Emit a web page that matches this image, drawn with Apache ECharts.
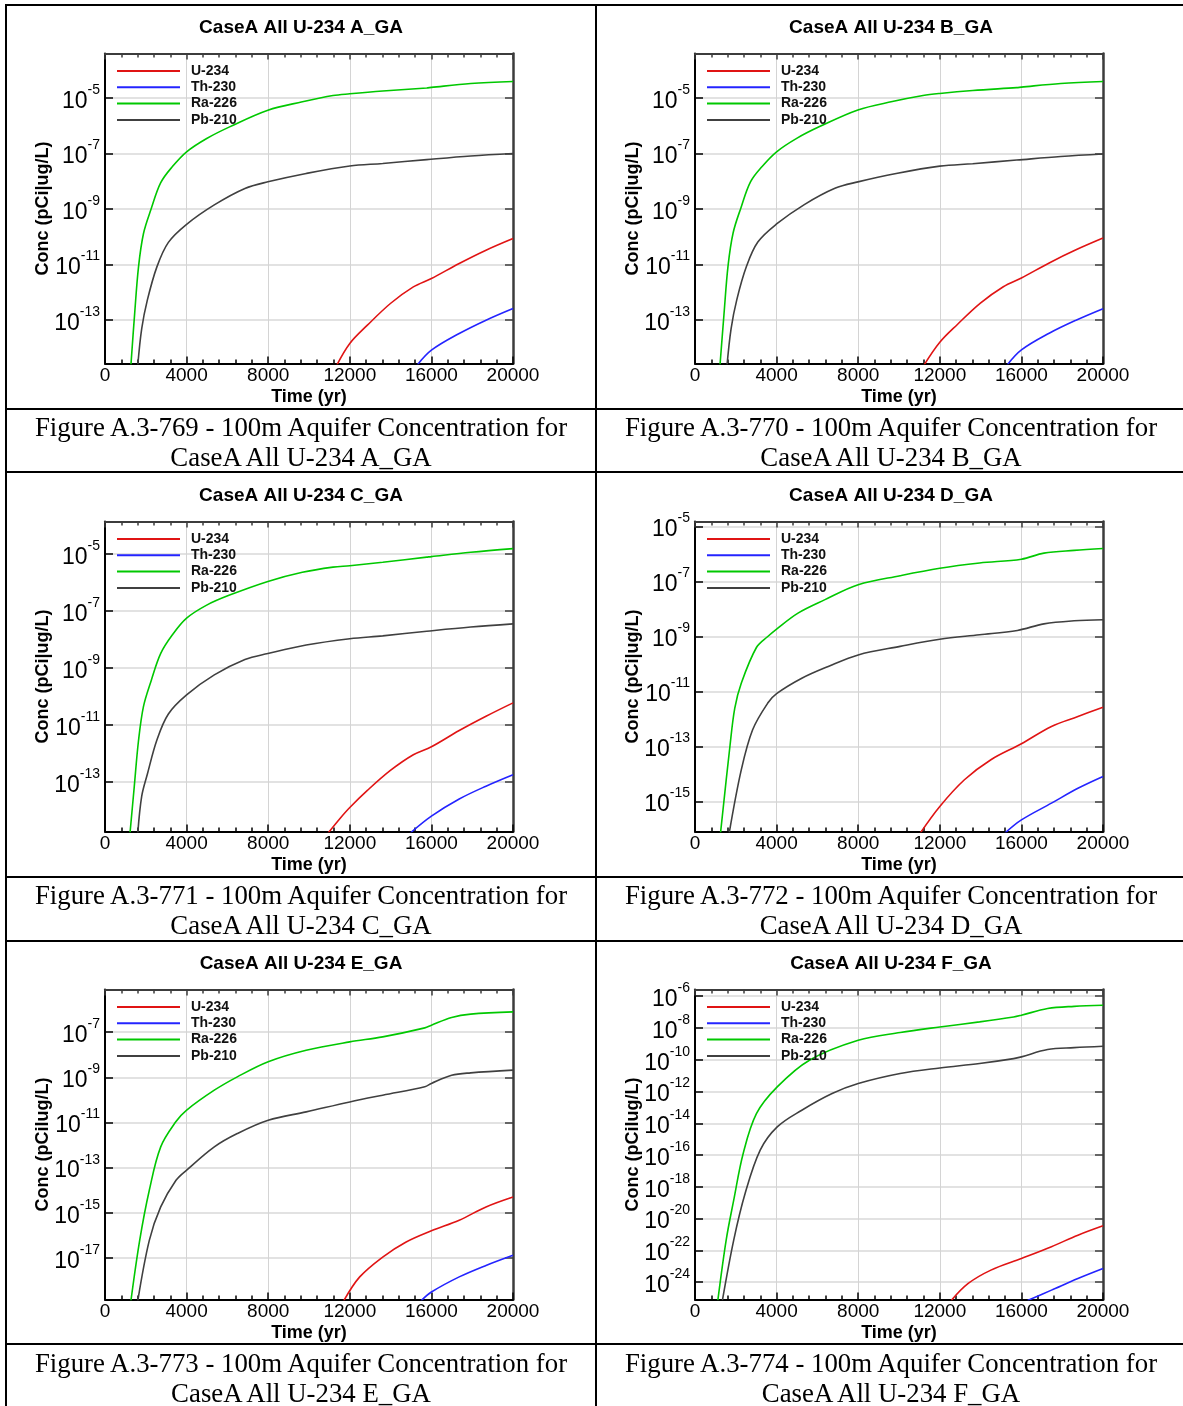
<!DOCTYPE html>
<html><head><meta charset="utf-8">
<script src="https://cdn.jsdelivr.net/npm/echarts@6/dist/echarts.min.js"></script>
<style>
html,body{margin:0;padding:0;background:#fff;}
body{width:1183px;height:1406px;position:relative;overflow:hidden;}
.chart{position:absolute;width:590px;height:468px;}
.hl{position:absolute;left:5px;width:1178px;height:2px;background:#000;}
.vl{position:absolute;top:4px;height:1402px;width:2px;background:#000;}
.cap{position:absolute;width:590px;text-align:center;font-family:'Liberation Serif','Times New Roman',serif;font-size:26.8px;line-height:30px;color:#000;white-space:nowrap;}
</style></head>
<body>
<div class="hl" style="top:4px"></div>
<div class="hl" style="top:408px"></div>
<div class="hl" style="top:471px"></div>
<div class="hl" style="top:876px"></div>
<div class="hl" style="top:940px"></div>
<div class="hl" style="top:1343px"></div>
<div class="vl" style="left:5px"></div>
<div class="vl" style="left:595px"></div>
<div id="cA" class="chart" style="left:0;top:0"></div>
<div id="cB" class="chart" style="left:590px;top:0"></div>
<div id="cC" class="chart" style="left:0;top:468px"></div>
<div id="cD" class="chart" style="left:590px;top:468px"></div>
<div id="cE" class="chart" style="left:0;top:936px"></div>
<div id="cF" class="chart" style="left:590px;top:936px"></div>
<div class="cap" style="left:6px;top:412px">Figure A.3-769 - 100m Aquifer Concentration for<br>CaseA All U-234 A_GA</div>
<div class="cap" style="left:596px;top:412px">Figure A.3-770 - 100m Aquifer Concentration for<br>CaseA All U-234 B_GA</div>
<div class="cap" style="left:6px;top:880px">Figure A.3-771 - 100m Aquifer Concentration for<br>CaseA All U-234 C_GA</div>
<div class="cap" style="left:596px;top:880px">Figure A.3-772 - 100m Aquifer Concentration for<br>CaseA All U-234 D_GA</div>
<div class="cap" style="left:6px;top:1348px">Figure A.3-773 - 100m Aquifer Concentration for<br>CaseA All U-234 E_GA</div>
<div class="cap" style="left:596px;top:1348px">Figure A.3-774 - 100m Aquifer Concentration for<br>CaseA All U-234 F_GA</div>
<script>
// ---------- shared ----------
const seriesNames = ['U-234', 'Th-230', 'Ra-226', 'Pb-210'];
const xTickStep = 4000;
const xRange = [0, 20000];

// ---------- Chart A ----------
const titleA = 'CaseA All U-234 A_GA';
const yRangeA = [-14.56, -3.40];
const yTicksA = [-13, -11, -9, -7, -5];
const A_U234 = [[11362,2.4e-15],[12000,1.45e-14],[12862,6.6e-14],[13990,3.98e-13],[15114,1.58e-12],[16000,3.16e-12],[17363,1.10e-11],[18677,3.31e-11],[20000,8.7e-11]];
const A_Th230 = [[15300,2.4e-15],[16000,8.3e-15],[17363,3.31e-14],[18677,1.0e-13],[20000,2.63e-13]];
const A_Ra226 = [[1270,2.4e-15],[1450,1.58e-13],[1643,8.3e-12],[1887,1.32e-10],[2264,1.02e-9],[2732,8.9e-9],[3295,3.31e-8],[4000,1.15e-7],[4985,3.47e-7],[6108,9.1e-7],[7985,3.63e-6],[9673,7.24e-6],[11176,1.22e-5],[12000,1.41e-5],[13613,1.78e-5],[15770,2.29e-5],[16000,2.4e-5],[17927,3.31e-5],[20000,3.89e-5]];
const A_Pb210 = [[1607,2.4e-15],[1800,5.0e-14],[2075,5.25e-13],[2544,8.3e-12],[3107,6.31e-11],[4000,2.82e-10],[5358,1.41e-9],[6859,5.5e-9],[7985,9.55e-9],[9862,1.91e-8],[12000,3.55e-8],[13613,4.37e-8],[15770,6.03e-8],[17927,8.13e-8],[20000,1.0e-7]];

// ---------- Chart B ----------
const titleB = 'CaseA All U-234 B_GA';
const yRangeB = [-14.56, -3.40];
const yTicksB = [-13, -11, -9, -7, -5];
const B_U234 = [[11225,2.4e-15],[12000,1.6e-14],[12862,7.0e-14],[13990,4.1e-13],[15114,1.6e-12],[16000,3.3e-12],[17363,1.15e-11],[18677,3.4e-11],[20000,9.0e-11]];
const B_Th230 = [[15294,2.4e-15],[16000,8.5e-15],[17363,3.4e-14],[18677,1.0e-13],[20000,2.6e-13]];
const B_Ra226 = [[1225,2.4e-15],[1420,1.6e-13],[1620,9.0e-12],[1870,1.4e-10],[2250,1.1e-9],[2720,9.5e-9],[3290,3.4e-8],[4000,1.15e-7],[4985,3.5e-7],[6108,9.3e-7],[7985,3.7e-6],[9673,7.4e-6],[11176,1.22e-5],[12000,1.45e-5],[13613,1.85e-5],[15770,2.35e-5],[16000,2.45e-5],[17927,3.3e-5],[20000,3.9e-5]];
const B_Pb210 = [[1570,2.4e-15],[1770,5.0e-14],[2050,5.5e-13],[2520,8.5e-12],[3080,6.5e-11],[4000,2.9e-10],[5358,1.45e-9],[6859,5.6e-9],[7985,9.5e-9],[9862,1.9e-8],[12000,3.5e-8],[13613,4.3e-8],[15770,5.8e-8],[17927,7.8e-8],[20000,9.6e-8]];

// ---------- Chart C ----------
const titleC = 'CaseA All U-234 C_GA';
const yRangeC = [-14.74, -3.87];
const yTicksC = [-13, -11, -9, -7, -5];
const C_U234 = [[10930,1.58e-15],[11500,5.01e-15],[12000,1.26e-14],[12862,5.01e-14],[13990,2.51e-13],[15114,8.91e-13],[16000,1.70e-12],[17363,6.31e-12],[18677,2.0e-11],[20000,5.89e-11]];
const C_Th230 = [[14950,1.58e-15],[16000,6.31e-15],[17363,2.51e-14],[18677,7.08e-14],[20000,1.78e-13]];
const C_Ra226 = [[1225,1.58e-15],[1430,6.3e-14],[1643,2.82e-12],[1887,4.47e-11],[2264,3.55e-10],[2732,3.2e-9],[3295,1.41e-8],[4000,5.5e-8],[4985,1.58e-7],[6108,3.55e-7],[7985,1.07e-6],[9673,2.24e-6],[11176,3.39e-6],[12000,3.8e-6],[13613,5.01e-6],[15770,7.59e-6],[16000,7.94e-6],[17927,1.12e-5],[20000,1.51e-5]];
const C_Pb210 = [[1607,1.58e-15],[1800,3.16e-14],[2075,1.86e-13],[2544,2.95e-12],[3107,2.4e-11],[4000,1.12e-10],[5358,5.62e-10],[6859,1.95e-9],[7985,3.16e-9],[9862,6.31e-9],[12000,1.05e-8],[13613,1.32e-8],[15770,1.91e-8],[17927,2.69e-8],[20000,3.47e-8]];

// ---------- Chart D ----------
const titleD = 'CaseA All U-234 D_GA';
const yRangeD = [-16.09, -4.82];
const yTicksD = [-15, -13, -11, -9, -7, -5];
const D_U234 = [[11040,7.08e-17],[12000,6.61e-16],[13207,6.17e-15],[14505,3.31e-14],[16000,1.26e-13],[17473,5.37e-13],[18771,1.23e-12],[20000,2.69e-12]];
const D_Th230 = [[15191,7.08e-17],[16000,2.14e-16],[17473,8.71e-16],[18771,3.02e-15],[20000,8.13e-15]];
const D_Ra226 = [[1250,7.08e-17],[1711,1.0e-13],[1950,2.5e-12],[2268,2.0e-11],[3011,3.98e-10],[3568,1.0e-9],[4000,1.86e-9],[5050,7.08e-9],[6348,2.14e-8],[8000,7.59e-8],[10056,1.62e-7],[12000,3.02e-7],[13951,4.68e-7],[16000,6.46e-7],[17103,1.07e-6],[18585,1.35e-6],[20000,1.58e-6]];
const D_Pb210 = [[1676,7.08e-17],[2268,1.41e-14],[2825,4.07e-13],[3567,3.8e-12],[4000,8.32e-12],[5235,3.02e-11],[6533,8.13e-11],[8000,2.14e-10],[10056,4.37e-10],[12000,7.94e-10],[13951,1.15e-9],[15804,1.66e-9],[17103,2.88e-9],[18585,3.72e-9],[20000,4.07e-9]];

// ---------- Chart E ----------
const titleE = 'CaseA All U-234 E_GA';
const yRangeE = [-18.84, -5.11];
const yTicksE = [-17, -15, -13, -11, -9, -7];
const E_U234 = [[11701,1.26e-19],[12486,1.45e-18],[13613,1.1e-17],[14740,5.0e-17],[16000,1.6e-16],[17363,4.68e-16],[18677,1.82e-15],[20000,5.01e-15]];
const E_Th230 = [[15490,1.26e-19],[16000,3.09e-19],[17363,1.45e-18],[18677,4.68e-18],[20000,1.32e-17]];
const E_Ra226 = [[1270,1.26e-19],[1700,6.03e-17],[2172,1.0e-14],[2731,8.32e-13],[3481,1.1e-11],[3990,3.47e-11],[5358,2.69e-10],[6485,1.05e-9],[8000,4.9e-9],[9862,1.58e-8],[12000,3.72e-8],[13613,6.17e-8],[15677,1.55e-7],[16000,2.04e-7],[16991,4.47e-7],[17927,6.31e-7],[20000,7.94e-7]];
const E_Pb210 = [[1607,1.26e-19],[2172,6.03e-17],[2731,1.82e-15],[3481,2.75e-14],[3990,7.59e-14],[5358,8.32e-13],[6485,3.24e-12],[8000,1.26e-11],[9862,2.95e-11],[12000,8.13e-11],[13613,1.62e-10],[15677,3.8e-10],[16000,5.37e-10],[16991,1.23e-9],[17927,1.58e-9],[20000,2.09e-9]];

// ---------- Chart F ----------
const titleF = 'CaseA All U-234 F_GA';
const yRangeF = [-25.09, -5.58];
const yTicksF = [-24, -22, -20, -18, -16, -14, -12, -10, -8, -6];
const F_U234 = [[12560,7.08e-26],[13393,8.32e-25],[14505,5.75e-24],[16000,3.09e-23],[17473,1.7e-22],[18771,9.12e-22],[20000,3.55e-21]];
const F_Th230 = [[16304,7.08e-26],[17473,3.16e-25],[18771,1.7e-24],[20000,7.24e-24]];
const F_Ra226 = [[1119,7.08e-26],[1528,4.47e-22],[1898,1.45e-19],[2362,1.26e-16],[3011,4.07e-14],[4030,1.95e-12],[5608,9.33e-11],[8000,1.66e-9],[10056,5.13e-9],[12000,1.15e-8],[13951,2.4e-8],[15618,4.9e-8],[16000,6.31e-8],[17284,1.66e-7],[18585,2.29e-7],[20000,2.69e-7]];
const F_Pb210 = [[1343,7.08e-26],[1898,4.47e-22],[2456,3.8e-19],[3196,2.04e-16],[4030,5.89e-15],[5235,6.61e-14],[6721,7.41e-13],[8000,3.16e-12],[10056,1.35e-11],[12000,3.02e-11],[13951,5.75e-11],[15618,1.17e-10],[16000,1.51e-10],[17284,4.37e-10],[18585,5.75e-10],[20000,7.08e-10]];

// ---------- styles ----------
const COLORS = ['#e01414', '#2424ff', '#00c800', '#404040'];
const SANS = "'Liberation Sans', Arial, Helvetica, sans-serif";

function build(id, title, yName, yRange, yTicks, data) {
  const chart = echarts.init(document.getElementById(id), null, {renderer: 'canvas'});
  const toLog = arr => arr.map(p => [p[0], Math.log10(p[1])]);
  const yLabelFmt = v => '{b|10}{s|' + Math.round(v) + '}';
  const baseX = {type: 'value', min: xRange[0], max: xRange[1], interval: xTickStep};
  const baseY = {type: 'value', min: yRange[0], max: yRange[1], scale: false};
  chart.setOption({
    animation: false,
    backgroundColor: 'transparent',
    title: {
      text: title, left: 296, top: 13, textAlign: 'center',
      textStyle: {fontFamily: SANS, fontWeight: 'bold', fontSize: 19, color: '#000'}
    },
    legend: {
      show: true, orient: 'vertical', left: 112, top: 58, selectedMode: false,
      data: seriesNames, icon: 'rect', itemWidth: 63, itemHeight: 2, itemGap: 0.3,
      textStyle: {fontFamily: SANS, fontWeight: 'bold', fontSize: 14, color: '#111', lineHeight: 16, padding: [0, 0, 0, 6]}
    },
    grid: {left: 105, top: 53.5, width: 408, height: 310, containLabel: false, outerBoundsMode: 'none'},
    xAxis: [
      Object.assign({}, baseX, {
        position: 'bottom',
        axisLine: {show: true, onZero: false, lineStyle: {color: '#000', width: 2}},
        axisTick: {show: true, inside: true, length: 7, lineStyle: {color: '#000', width: 1.5}},
        minorTick: {show: true, splitNumber: 5, length: 4, lineStyle: {color: '#000', width: 1.5}},
        axisLabel: {show: true, margin: 3, fontFamily: SANS, fontSize: 19, color: '#000', showMinLabel: true, showMaxLabel: true,
          formatter: v => String(Math.round(v))},
        splitLine: {show: true, lineStyle: {color: '#d4d4d4', width: 1}},
        minorSplitLine: {show: false},
        name: 'Time (yr)', nameLocation: 'middle', nameGap: 25, nameMoveOverlap: false,
        nameTextStyle: {fontFamily: SANS, fontWeight: 'bold', fontSize: 18, color: '#000'}
      }),
      Object.assign({}, baseX, {
        position: 'top',
        axisLine: {show: true, onZero: false, lineStyle: {color: '#3c3c3c', width: 2}},
        axisTick: {show: true, inside: true, length: 6, lineStyle: {color: '#3c3c3c', width: 1.5}},
        minorTick: {show: true, splitNumber: 5, length: 4, lineStyle: {color: '#3c3c3c', width: 1.5}},
        axisLabel: {show: false},
        splitLine: {show: false}
      })
    ],
    yAxis: [
      Object.assign({}, baseY, {
        position: 'left',
        axisLine: {show: true, onZero: false, lineStyle: {color: '#000', width: 2}},
        axisTick: {show: true, inside: true, length: 8, customValues: yTicks, lineStyle: {color: '#000', width: 1.5}},
        axisLabel: {
          show: true, customValues: yTicks, margin: 5, formatter: yLabelFmt,
          rich: {
            b: {fontFamily: SANS, fontSize: 23, color: '#000', lineHeight: 30, verticalAlign: 'bottom'},
            s: {fontFamily: SANS, fontSize: 14, color: '#000', lineHeight: 14, verticalAlign: 'top'}
          }
        },
        splitLine: {show: true, lineStyle: {color: '#e2e2e2', width: 2}},
        name: yName, nameLocation: 'middle', nameGap: 53, nameMoveOverlap: false,
        nameTextStyle: {fontFamily: SANS, fontWeight: 'bold', fontSize: 18, color: '#000'}
      }),
      Object.assign({}, baseY, {
        position: 'right',
        axisLine: {show: true, onZero: false, lineStyle: {color: '#3c3c3c', width: 2.5}},
        axisTick: {show: true, inside: true, length: 8, customValues: yTicks, lineStyle: {color: '#3c3c3c', width: 1.5}},
        axisLabel: {show: false},
        splitLine: {show: false}
      })
    ],
    series: data.map((d, i) => ({
      name: seriesNames[i], type: 'line', xAxisIndex: 0, yAxisIndex: 0,
      data: toLog(d), showSymbol: false, symbol: 'none', smooth: 0.35, clip: true,
      lineStyle: {color: COLORS[i], width: 1.6}, itemStyle: {color: COLORS[i]},
      emphasis: {disabled: true}
    }))
  });
  return chart;
}

const yNameA = 'Conc (pCi|ug/L)';
const yNameE = 'Conc (pCilug/L)';
build('cA', titleA, yNameA, yRangeA, yTicksA, [A_U234, A_Th230, A_Ra226, A_Pb210]);
build('cB', titleB, yNameA, yRangeB, yTicksB, [B_U234, B_Th230, B_Ra226, B_Pb210]);
build('cC', titleC, yNameA, yRangeC, yTicksC, [C_U234, C_Th230, C_Ra226, C_Pb210]);
build('cD', titleD, yNameA, yRangeD, yTicksD, [D_U234, D_Th230, D_Ra226, D_Pb210]);
build('cE', titleE, yNameE, yRangeE, yTicksE, [E_U234, E_Th230, E_Ra226, E_Pb210]);
build('cF', titleF, yNameE, yRangeF, yTicksF, [F_U234, F_Th230, F_Ra226, F_Pb210]);
</script>
</body></html>
